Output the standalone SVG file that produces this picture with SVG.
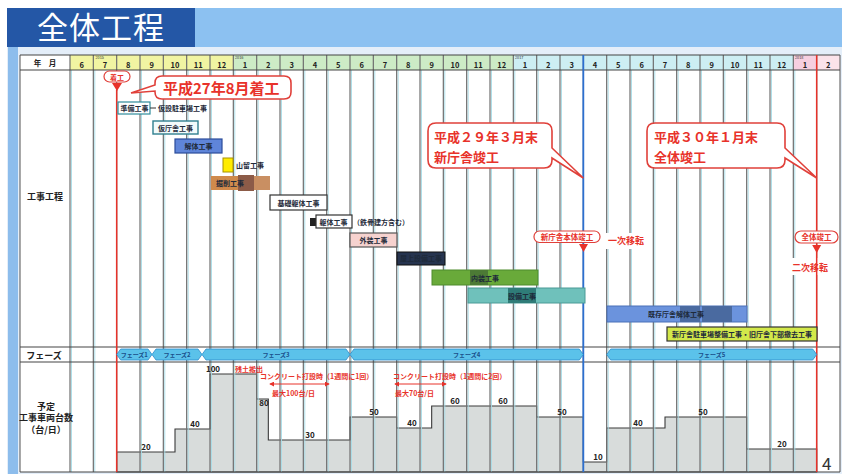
<svg xmlns="http://www.w3.org/2000/svg" width="842" height="474" viewBox="0 0 842 474">
<defs>
<style>
text{font-family:"Noto Sans CJK JP","Noto Sans CJK SC",sans-serif;}
.hd{font-size:7.5px;font-weight:bold;fill:#222;text-anchor:middle}
.yr{font-size:3.8px;fill:#333}
.grid{stroke:#6f6f6f;stroke-width:1.2;fill:none}
.grid2{stroke:#a6dbe6;stroke-width:0.9;fill:none}
.hl{stroke:#444;stroke-width:1.2;fill:none}
.lbl{font-size:7px;font-weight:bold;fill:#1e2a3a}
.red{fill:#e8322a;font-weight:bold}
.num{font-size:8px;font-weight:bold;fill:#222;text-anchor:middle}
.ph{fill:#5bc2ea;stroke:#2b8ccc;stroke-width:0.8}
.pht{font-size:6px;font-weight:bold;fill:#1a4f8a;text-anchor:middle}
.bub{fill:#fff;stroke:#e0403a;stroke-width:1.6}
.pill{fill:#fff;stroke:#e0403a;stroke-width:1.2}
.side{font-size:9px;font-weight:bold;fill:#222;text-anchor:middle}
</style>
<marker id="ar" viewBox="0 0 6 6" refX="5" refY="3" markerWidth="5" markerHeight="5" orient="auto-start-reverse">
<path d="M0,0 L6,3 L0,6 Z" fill="#e8322a"/>
</marker>
</defs>

<!-- background / title -->
<rect x="0" y="0" width="842" height="474" fill="#ffffff"/>
<rect x="7" y="47" width="835" height="427" fill="#e4eef9"/>
<rect x="8" y="47" width="10" height="427" fill="#8dbdec"/>
<rect x="195" y="8" width="647" height="39" fill="#8cc1f1"/>
<rect x="7" y="8" width="188" height="39" fill="#2457a6"/>
<text x="37" y="39" font-size="31" fill="#ffffff" letter-spacing="1">全体工程</text>

<!-- table -->
<rect x="20" y="55" width="820" height="417" fill="#ffffff"/>
<rect x="70" y="55" width="163.33" height="15" fill="#f1f4a2"/>
<rect x="233.33" y="55" width="280" height="15" fill="#cdebc6"/>
<rect x="513.33" y="55" width="280" height="15" fill="#cdeef3"/>
<rect x="793.33" y="55" width="23.34" height="15" fill="#f6cfe0"/>
<rect x="816.67" y="55" width="23.33" height="15" fill="#fbe3ea"/>

<g id="header">
<text class="hd" x="45" y="66">年　月</text>
<text class="hd" x="81.7" y="67.5">6</text><text class="hd" x="105" y="67.5">7</text><text class="hd" x="128.3" y="67.5">8</text><text class="hd" x="151.7" y="67.5">9</text><text class="hd" x="175" y="67.5">10</text><text class="hd" x="198.3" y="67.5">11</text><text class="hd" x="221.7" y="67.5">12</text>
<text class="hd" x="245" y="67.5">1</text><text class="hd" x="268.3" y="67.5">2</text><text class="hd" x="291.7" y="67.5">3</text><text class="hd" x="315" y="67.5">4</text><text class="hd" x="338.3" y="67.5">5</text><text class="hd" x="361.7" y="67.5">6</text><text class="hd" x="385" y="67.5">7</text><text class="hd" x="408.3" y="67.5">8</text><text class="hd" x="431.7" y="67.5">9</text><text class="hd" x="455" y="67.5">10</text><text class="hd" x="478.3" y="67.5">11</text><text class="hd" x="501.7" y="67.5">12</text>
<text class="hd" x="525" y="67.5">1</text><text class="hd" x="548.3" y="67.5">2</text><text class="hd" x="571.7" y="67.5">3</text><text class="hd" x="595" y="67.5">4</text><text class="hd" x="618.3" y="67.5">5</text><text class="hd" x="641.7" y="67.5">6</text><text class="hd" x="665" y="67.5">7</text><text class="hd" x="688.3" y="67.5">8</text><text class="hd" x="711.7" y="67.5">9</text><text class="hd" x="735" y="67.5">10</text><text class="hd" x="758.3" y="67.5">11</text><text class="hd" x="781.7" y="67.5">12</text>
<text class="hd" x="805" y="67.5">1</text><text class="hd" x="828.3" y="67.5">2</text>
<text class="yr" x="95.5" y="58.6">2015</text>
<text class="yr" x="235" y="58.6">2016</text>
<text class="yr" x="515" y="58.6">2017</text>
<text class="yr" x="795" y="58.6">2018</text>
</g>

<!-- vehicle step chart -->
<g id="vehicles">
<path d="M116.67,472 V452 H175 V429 H210 V374 H256.67 V399 H268.33 V440 H350 V417 H396.67 V428 H431.67 V406 H536.67 V417 H583.33 V462 H606.67 V428 H665 V417 H746.67 V449 H816.67 V472 Z" fill="#d8dcdb" stroke="#3a3a3a" stroke-width="1.1"/>
</g>

<!-- grid -->
<path class="grid2" d="M71.5 70V472M94.8 70V472M141.5 70V472M164.8 70V472M188.2 70V472M211.5 70V472M234.8 70V472M258.2 70V472M281.5 70V472M304.8 70V472M328.2 70V472M351.5 70V472M374.8 70V472M398.2 70V472M421.5 70V472M444.8 70V472M468.2 70V472M491.5 70V472M514.8 70V472M538.2 70V472M561.5 70V472M608.2 70V472M631.5 70V472M654.8 70V472M678.2 70V472M701.5 70V472M724.8 70V472M748.2 70V472M771.5 70V472M794.8 70V472"/>
<path class="grid" d="M70 55V472M93.33 55V472M116.67 55V472M140 55V472M163.33 55V472M186.67 55V472M210 55V472M233.33 55V472M256.67 55V472M280 55V472M303.33 55V472M326.67 55V472M350 55V472M373.33 55V472M396.67 55V472M420 55V472M443.33 55V472M466.67 55V472M490 55V472M513.33 55V472M536.67 55V472M560 55V472M583.33 55V472M606.67 55V472M630 55V472M653.33 55V472M676.67 55V472M700 55V472M723.33 55V472M746.67 55V472M770 55V472M793.33 55V472M816.67 55V472M840 55V472M20 55V472"/>
<path class="hl" d="M20 55H840M20 70H840M20 347H840M20 362H840M20 472H840"/>

<!-- row labels -->
<g id="row-labels">
<text class="side" x="45" y="200">工事工程</text>
<text class="side" x="44" y="359" font-size="9.5">フェーズ</text>
<text class="side" x="46" y="409.5" font-size="7">予定</text>
<text class="side" x="46" y="421" font-size="6.8">工事車両台数</text>
<text class="side" x="46" y="432.5" font-size="7">（台/日）</text>
</g>

<!-- white patches behind labels -->
<rect x="602" y="233" width="50" height="16" fill="#ffffff"/>
<rect x="790" y="258" width="48" height="17" fill="#ffffff"/>

<!-- connectors: milestone lines and arrows -->
<g id="connectors">
<line x1="116.67" y1="90" x2="116.67" y2="472" stroke="#e8322a" stroke-width="1.5"/>
<line x1="583.33" y1="55" x2="583.33" y2="472" stroke="#2c6fd0" stroke-width="1.8"/>
<line x1="816.67" y1="55" x2="816.67" y2="472" stroke="#e8322a" stroke-width="1.5"/>
<line x1="270" y1="384" x2="329" y2="384" stroke="#e8322a" stroke-width="1" marker-start="url(#ar)" marker-end="url(#ar)"/>
<line x1="395" y1="384" x2="446" y2="384" stroke="#e8322a" stroke-width="1" marker-start="url(#ar)" marker-end="url(#ar)"/>
</g>

<!-- gantt bars -->
<g id="bar-junbi">
<rect x="118" y="102" width="32" height="12" fill="#ffffff" stroke="#2f8c9c" stroke-width="1.2"/>
<text class="lbl" x="120.5" y="110.5" font-size="6.5">準備工事</text>
<line x1="150" y1="108" x2="156" y2="108" stroke="#333" stroke-width="1"/>
<text class="lbl" x="158" y="111" font-size="7.5">仮設駐車場工事</text>
</g>
<g id="bar-karichosha">
<rect x="153" y="121" width="45" height="13" fill="#f2fafb" stroke="#2f7f8f" stroke-width="1.4"/>
<text class="lbl" x="158" y="130.5">仮庁舎工事</text>
</g>
<g id="bar-kaitai">
<rect x="175" y="139" width="47" height="14" fill="#5f85d9" stroke="#2b4c9a" stroke-width="1.2"/>
<text class="lbl" x="198.5" y="148.5" text-anchor="middle" fill="#13234a">解体工事</text>
</g>
<g id="bar-yamadome">
<rect x="223" y="158" width="10" height="14" fill="#ffec00" stroke="#a89200" stroke-width="1"/>
<text class="lbl" x="236" y="168" fill="#1d3d7a">山留工事</text>
</g>
<g id="bar-kussaku">
<rect x="211" y="176" width="59" height="14" fill="#cf8a4c"/>
<rect x="238" y="175" width="16" height="16" fill="#8c5b48"/>
<rect x="254" y="176" width="16" height="14" fill="#c98f62"/>
<text class="lbl" x="216" y="186" fill="#3a2410">掘削工事</text>
</g>
<g id="bar-kiso">
<rect x="270" y="195" width="57" height="15" fill="#ffffff" stroke="#333" stroke-width="1.2"/>
<text class="lbl" x="298.5" y="205.5" text-anchor="middle" font-size="7.5">基礎躯体工事</text>
</g>
<g id="bar-kutai">
<rect x="310" y="218" width="6" height="8" fill="#222"/>
<rect x="316" y="215" width="36" height="13" fill="#ffffff" stroke="#333" stroke-width="1.2"/>
<text class="lbl" x="319.5" y="224.5">躯体工事</text>
<text class="lbl" x="353" y="224.5" font-size="7.5">（鉄骨建方含む）</text>
</g>
<g id="bar-gaiso">
<rect x="350" y="233" width="47" height="14" fill="#f6d2cf" stroke="#555" stroke-width="1.2"/>
<text class="lbl" x="373.5" y="242.5" text-anchor="middle">外装工事</text>
</g>
<g id="bar-okujo">
<rect x="397" y="252" width="48" height="13" fill="#26344f" stroke="#111" stroke-width="1"/>
<text class="lbl" x="421" y="261" text-anchor="middle" font-size="6.5" fill="#ffffff">屋上設備工事</text>
</g>
<g id="bar-naiso">
<rect x="432" y="270" width="106" height="15" fill="#69aa3a" stroke="#4f8b2c" stroke-width="1"/>
<rect x="470" y="270" width="18" height="15" fill="#4c7a35"/>
<text class="lbl" x="485" y="280.5" text-anchor="middle" fill="#1f3312">内装工事</text>
</g>
<g id="bar-setsubi">
<rect x="468" y="288" width="117" height="15" fill="#6fc1bb" stroke="#4a9a96" stroke-width="1"/>
<rect x="508" y="288" width="28" height="15" fill="#2f7c78"/>
<text class="lbl" x="522" y="298.5" text-anchor="middle" fill="#0f2a2a">設備工事</text>
</g>
<g id="bar-kison">
<rect x="607" y="306" width="140" height="16" fill="#6b93dd" stroke="#4a70b8" stroke-width="1"/>
<rect x="680" y="306" width="20" height="16" fill="#4a6aa0"/>
<rect x="702" y="306" width="30" height="16" fill="#4a6aa0"/>
<text class="lbl" x="648" y="316.5" fill="#13234a">既存庁舎解体工事</text>
</g>
<g id="bar-chushajo">
<rect x="667" y="327" width="150" height="14" fill="#d3e84a" stroke="#333" stroke-width="1.2"/>
<text class="lbl" x="742" y="336.5" text-anchor="middle" font-size="6.8">新庁舎駐車場整備工事・旧庁舎下部撤去工事</text>
</g>

<!-- phases -->
<g id="phase1"><polygon class="ph" points="116.7,354.5 120.7,349 148,349 152,354.5 148,360 120.7,360"/><text class="pht" x="134.3" y="357">フェーズ1</text></g>
<g id="phase2"><polygon class="ph" points="152,354.5 156,349 198,349 202,354.5 198,360 156,360"/><text class="pht" x="177" y="357">フェーズ2</text></g>
<g id="phase3"><polygon class="ph" points="202,354.5 206,349 346,349 350,354.5 346,360 206,360"/><text class="pht" x="276" y="357">フェーズ3</text></g>
<g id="phase4"><polygon class="ph" points="350,354.5 354,349 579.3,349 583.3,354.5 579.3,360 354,360"/><text class="pht" x="466.7" y="357">フェーズ4</text></g>
<g id="phase5"><polygon class="ph" points="606.7,354.5 610.7,349 812.7,349 816.7,354.5 812.7,360 610.7,360"/><text class="pht" x="711.7" y="357">フェーズ5</text></g>

<!-- vehicle numbers & notes -->
<g id="vehicle-labels">
<text class="num" x="146" y="450">20</text>
<text class="num" x="195" y="427">40</text>
<text class="num" x="213" y="372" text-anchor="start">100</text>
<text class="red" x="235" y="372" font-size="7">残土搬出</text>
<text class="num" x="264" y="406">80</text>
<text class="num" x="310" y="438">30</text>
<text class="num" x="374" y="415">50</text>
<text class="num" x="412" y="426">40</text>
<text class="num" x="455" y="404">60</text>
<text class="num" x="503" y="404">60</text>
<text class="num" x="562" y="415">50</text>
<text class="num" x="598" y="460">10</text>
<text class="num" x="638" y="426">40</text>
<text class="num" x="703" y="415">50</text>
<text class="num" x="782" y="447">20</text>
<text class="red" x="260" y="379" font-size="7">コンクリート打設時（1週間に1回）</text>
<text class="red" x="272" y="396" font-size="7">最大100台/日</text>
<text class="red" x="393" y="379" font-size="7">コンクリート打設時（1週間に2回）</text>
<text class="red" x="395" y="396" font-size="7">最大70台/日</text>
<text x="822" y="470" font-size="17" fill="#333" font-family="Liberation Sans, sans-serif">4</text>
</g>

<!-- milestones -->
<g id="ms-start">
<rect x="104" y="71" width="26" height="11" rx="5.5" class="pill"/>
<text class="red" x="117" y="79.5" font-size="7" text-anchor="middle">着工</text>
<polygon points="112,83 122,83 117,91" fill="#e8322a"/>
</g>
<g id="callout-start">
<path class="bub" d="M162,76 H284 Q291,76 291,83 V92 Q291,99 284,99 H162 Q155,99 155,92 V91 L131,93 L155,85 V83 Q155,76 162,76 Z"/>
<text class="red" x="163" y="93.5" font-size="15">平成27年8月着工</text>
</g>
<g id="callout-shinchosha">
<path class="bub" d="M436,123 H544 Q552,123 552,131 V148 L583.3,178 L552,158 V160 Q552,168 544,168 H436 Q428,168 428,160 V131 Q428,123 436,123 Z"/>
<text class="red" x="434" y="142" font-size="13">平成２９年３月末</text>
<text class="red" x="434" y="161.5" font-size="13">新庁舎竣工</text>
</g>
<g id="callout-zentai">
<path class="bub" d="M655,123 H777 Q785,123 785,131 V148 L816.7,178 L785,158 V160 Q785,168 777,168 H655 Q647,168 647,160 V131 Q647,123 655,123 Z"/>
<text class="red" x="654" y="142" font-size="13">平成３０年１月末</text>
<text class="red" x="654" y="161.5" font-size="13">全体竣工</text>
</g>
<g id="ms-shinchosha">
<rect x="534" y="231" width="66" height="11.5" rx="5.5" class="pill"/>
<text class="red" x="567" y="239.5" font-size="7.5" text-anchor="middle">新庁舎本体竣工</text>
<polygon points="579,244 588,244 583.5,252" fill="#e8322a"/>
<text class="red" x="608" y="244" font-size="9">一次移転</text>
</g>
<g id="ms-zentai">
<rect x="795" y="231" width="43" height="12" rx="6" class="pill"/>
<text class="red" x="816.5" y="240" font-size="7.5" text-anchor="middle">全体竣工</text>
<polygon points="812.2,245 821.2,245 816.7,253" fill="#e8322a"/>
<text class="red" x="792" y="271" font-size="9">二次移転</text>
</g>
</svg>
